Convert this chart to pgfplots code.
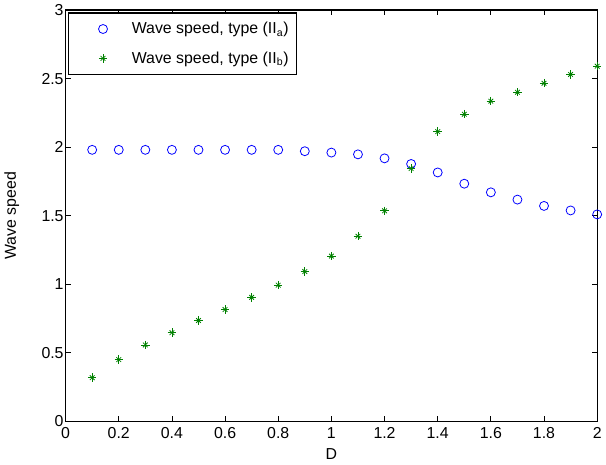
\documentclass[border=0pt]{standalone}
\usepackage{fontspec}
\setmainfont{Liberation Sans}
\usepackage{pgfplots}
\pgfplotsset{compat=1.18}

\definecolor{mblue}{rgb}{0,0,1}
\definecolor{mgreen}{rgb}{0,0.5,0}

% matlab-like '*' marker: a plus with shorter diagonals
\pgfdeclareplotmark{mstar}{%
  \pgfuseplotmark{+}%
  \pgfscope\pgftransformscale{0.78}\pgfuseplotmark{x}\endpgfscope}

\begin{document}
\begin{tikzpicture}
\begin{axis}[
  scale only axis,
  width=402pt, height=311pt,
  xmin=0, xmax=2, ymin=0, ymax=3,
  xtick={0,0.2,...,2.01}, ytick={0,0.5,...,3.01},
  xticklabels={0,0.2,0.4,0.6,0.8,1,1.2,1.4,1.6,1.8,2},
  yticklabels={0,0.5,1,1.5,2,2.5,3},
  tick align=inside, tick pos=both,
  major tick length=3.8pt,
  axis line style={line width=1pt},
  every tick/.style={black, line width=0.6pt},
  tick label style={font=\fontsize{12}{14}\selectfont},
  yticklabel style={xshift=2pt},
  xticklabel style={yshift=-1pt},
  label style={font=\fontsize{12}{14}\selectfont},
  xlabel={D}, ylabel={Wave speed},
  xlabel style={yshift=-1pt},
  ylabel style={yshift=10pt},
  /pgf/number format/assume math mode=true,
  legend cell align=left,
  legend style={at={(rel axis cs:0.004,0.994)}, anchor=north west,
    draw=black, line width=0.8pt, font=\fontsize{12}{14}\selectfont,
    inner xsep=4pt, inner ysep=5pt, row sep=8pt,
    /tikz/every odd column/.append style={column sep=13.5pt}},
  legend image code/.code={\path (-22pt,0pt) (6pt,0pt); \draw[#1] plot coordinates {(0pt,0pt)};},
]
\addplot[only marks, mblue, mark=o, mark size=3.4pt, line width=0.6pt] coordinates {
(0.1,1.98)(0.2,1.98)(0.3,1.98)(0.4,1.98)(0.5,1.98)(0.6,1.98)(0.7,1.98)
(0.8,1.98)(0.9,1.97)(1.0,1.96)(1.1,1.947)(1.2,1.918)(1.3,1.877)(1.4,1.815)
(1.5,1.733)(1.6,1.67)(1.7,1.617)(1.8,1.571)(1.9,1.538)(2.0,1.509)};
\addlegendentry{Wave speed, type (II\textsubscript{a})}
\addplot[only marks, mgreen, mark=mstar, mark size=3.2pt, line width=0.6pt] coordinates {
(0.1,0.318)(0.2,0.45)(0.3,0.557)(0.4,0.646)(0.5,0.735)(0.6,0.815)(0.7,0.904)
(0.8,0.993)(0.9,1.092)(1.0,1.205)(1.1,1.35)(1.2,1.535)(1.3,1.844)(1.4,2.113)
(1.5,2.24)(1.6,2.335)(1.7,2.40)(1.8,2.466)(1.9,2.53)(2.0,2.59)};
\addlegendentry{Wave speed, type (II\textsubscript{b})}
\end{axis}
\end{tikzpicture}
\end{document}
